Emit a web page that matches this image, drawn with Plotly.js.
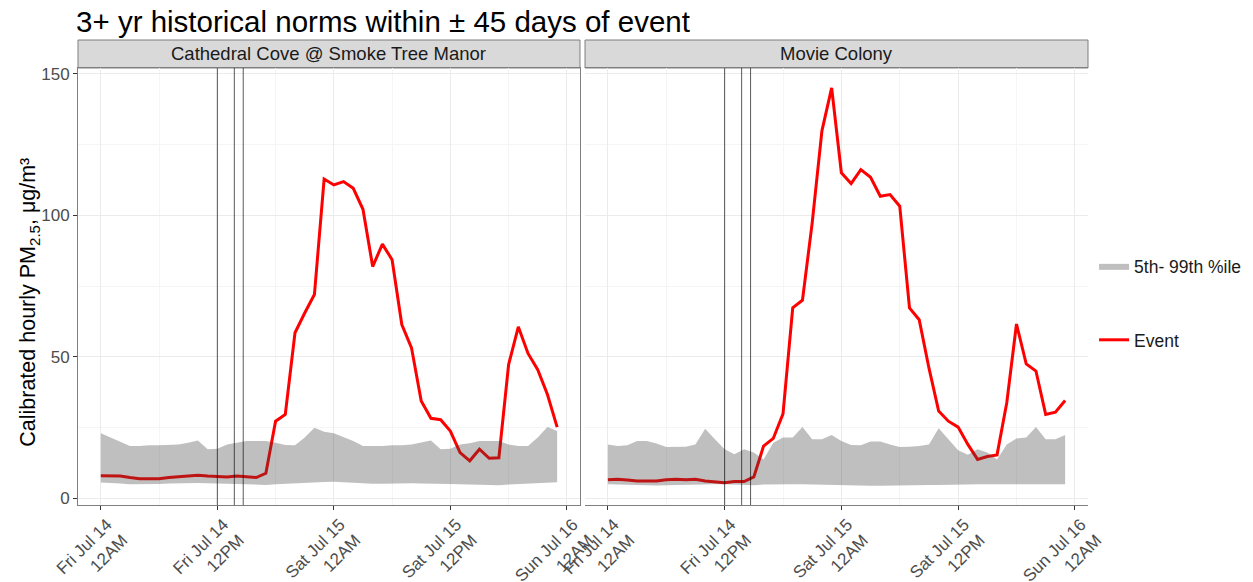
<!DOCTYPE html>
<html>
<head>
<meta charset="utf-8">
<script src="https://cdn.plot.ly/plotly-3.0.1.min.js"></script>
<style>
  body { margin: 0; background: white; }
  #grafic { width: 1253px; height: 582px; }
</style>
</head>
<body>
<div id="grafic"></div>
<script>
// DADES LLEGIDES DEL GRAFIC (hores del 14 jul 00:00 fins 15 jul 23:00)
var inici = '2023-07-14T00:00:00';
var nHores = 48;

var panells = ['Cathedral Cove @ Smoke Tree Manor', 'Movie Colony'];

// Cathedral Cove
var cc_event = [8.0,8.0,7.9,7.4,7.0,7.0,7.0,7.4,7.7,8.0, 8.2,7.9,7.7,7.6,7.9,7.7,7.4,8.9,27.3,29.7,
  58.5,65.5,72.0,112.8,110.7,111.9,109.5,102.1,81.9,89.8, 84.3,61.4,53.2,34.4,28.3,27.8,23.8,16.2,13.3,17.4,
  14.2,14.4,47.3,60.6,51.2,45.5,36.7,25.2];
var cc_p99 = [23.0,21.5,20.1,18.5,18.5,18.8,18.8,18.9,19.1,19.7,20.5,17.4,17.6,19.1,19.7,20.3,20.3,20.3,19.7,18.9,18.8,21.5,25.0,23.6,
  23.0,21.7,20.3,18.5,18.5,18.5,18.8,18.8,19.1,19.7,20.5,17.4,17.6,19.1,19.5,20.3,20.3,20.3,19.1,18.5,18.5,21.5,25.2,23.8];
var cc_p5 = [5.6,5.5,5.3,5.0,5.0,5.0,5.1,5.3,5.4,5.4,5.5,5.4,5.3,5.2,5.0,4.9,4.7,4.8,5.0,5.2,5.4,5.6,5.8,5.8,
  5.9,5.7,5.5,5.3,5.2,5.2,5.3,5.4,5.4,5.3,5.3,5.2,5.1,5.0,4.9,4.8,4.6,4.7,4.9,5.1,5.3,5.5,5.6,5.7];

// Movie Colony
var mc_event = [6.6,6.8,6.5,6.2,6.2,6.2,6.6,6.8,6.6,6.8, 6.2,5.9,5.6,6.0,6.0,7.6,18.5,21.2,29.9,67.3,
  70.0,97.3,129.8,145.0,115.0,111.2,116.1,113.4,106.7,107.3, 103.2,67.3,63.1,46.1,30.9,27.3,25.2,19.1,13.8,14.8,
  15.4,33.8,61.6,47.5,45.0,29.7,30.5,34.6];
var mc_p99 = [19.1,18.5,18.8,20.3,20.3,19.4,18.2,18.2,18.3,19.1,24.6,20.9,17.4,15.6,17.4,16.2,13.8,19.7,21.5,21.5,25.2,20.9,20.9,22.4,
  20.3,18.9,18.8,20.1,20.1,19.1,18.2,18.3,18.5,19.1,24.8,20.9,17.0,15.4,17.4,16.2,13.8,19.1,21.2,21.5,25.2,20.9,20.9,22.4];
var mc_p5 = [5.0,4.9,4.7,4.7,4.6,4.6,4.7,4.8,4.8,4.9,4.9,5.0,5.0,4.9,4.8,4.7,4.9,5.0,5.0,5.0,5.0,4.9,4.8,4.7,
  4.6,4.6,4.5,4.5,4.5,4.6,4.7,4.8,4.8,4.8,4.8,4.9,4.9,5.0,5.0,5.0,5.0,5.0,5.0,5.0,5.0,5.0,5.0,5.0];

// linies verticals de l'esdeveniment
var liniesEvent = ['2023-07-14 12:00', '2023-07-14 13:45', '2023-07-14 14:40'];

// etiquetes eix x
var ticsX = ['2023-07-14 00:00', '2023-07-14 12:00', '2023-07-15 00:00', '2023-07-15 12:00', '2023-07-16 00:00'];
var textTicsX = ['Fri Jul 14<br>12AM', 'Fri Jul 14<br>12PM', 'Sat Jul 15<br>12AM', 'Sat Jul 15<br>12PM', 'Sun Jul 16<br>12AM'];
var ticsY = [0, 50, 100, 150];

// hores com a dates
var hores = [];
var t0 = new Date(inici + 'Z').getTime();
for (var h = 0; h < nHores; ++h) {
    hores.push(new Date(t0 + h * 3600000).toISOString().slice(0, 16).replace('T', ' '));
}

var FONT = 'Liberation Sans, Arial, sans-serif';
var colorBanda = 'rgba(60,60,60,0.33)';

//traces d'un panell: primer la linia vermella, despres la banda a sobre
function tracesPanell(event, p5, p99, xa, ya, primer) {
    return [
        {x: hores, y: event, xaxis: xa, yaxis: ya, mode: 'lines', type: 'scatter',
         line: {color: '#FF0000', width: 3}, name: 'Event', legend: 'legend2', showlegend: primer, hoverinfo: 'skip'},
        {x: hores, y: p5, xaxis: xa, yaxis: ya, mode: 'lines', type: 'scatter',
         line: {width: 0}, showlegend: false, hoverinfo: 'skip'},
        {x: hores, y: p99, xaxis: xa, yaxis: ya, mode: 'lines', type: 'scatter', fill: 'tonexty',
         fillcolor: colorBanda, line: {width: 0}, name: '5th- 99th %ile', showlegend: primer, hoverinfo: 'skip'}
    ];
}

var dades = tracesPanell(cc_event, cc_p5, cc_p99, 'x', 'y', true)
    .concat(tracesPanell(mc_event, mc_p5, mc_p99, 'x2', 'y2', false));

function eixX(domini) {
    return {
        type: 'date', domain: domini,
        range: ['2023-07-13 21:39', '2023-07-16 01:21'],
        tickmode: 'array', tickvals: ticsX, ticktext: textTicsX, tickangle: -45,
        tickfont: {family: FONT, size: 17, color: '#4D4D4D'},
        ticks: 'outside', ticklen: 4, tickcolor: '#333333',
        ticklabelshift: 6, ticklabelstandoff: -2,
        showgrid: true, gridcolor: '#EBEBEB', gridwidth: 1,
        minor: {tick0: '2023-07-14', dtick: 21600000, showgrid: true, gridcolor: '#F5F5F5', gridwidth: 1},
        showline: true, mirror: true, linecolor: '#7F7F7F', linewidth: 1,
        zeroline: false, fixedrange: true, automargin: false
    };
}

function eixY(etiquetes) {
    return {
        range: [-2.3, 152], domain: [0, 0.9398],
        tickmode: 'array', tickvals: ticsY, showticklabels: etiquetes,
        tickfont: {family: FONT, size: 17, color: '#4D4D4D'},
        ticks: etiquetes ? 'outside' : '', ticklen: 4, tickcolor: '#333333',
        showgrid: true, gridcolor: '#EBEBEB', gridwidth: 1,
        minor: {tick0: 0, dtick: 25, showgrid: true, gridcolor: '#F5F5F5', gridwidth: 1},
        showline: true, mirror: true, linecolor: '#7F7F7F', linewidth: 1,
        zeroline: false, fixedrange: true, automargin: false
    };
}

// linies verticals i capsals (strips)
var formes = [];
var anotacions = [];
var eixos = [['x', 'y'], ['x2', 'y2']];
for (var p = 0; p < eixos.length; ++p) {
    for (var k = 0; k < liniesEvent.length; ++k) {
        formes.push({type: 'line', xref: eixos[p][0], yref: eixos[p][1] + ' domain',
            x0: liniesEvent[k], x1: liniesEvent[k], y0: 0, y1: 1,
            line: {color: 'rgba(0,0,0,0.65)', width: 1}});
    }
    formes.push({type: 'rect', xref: eixos[p][0] + ' domain', yref: 'paper',
        x0: 0, x1: 1, y0: 0.9398, y1: 1, fillcolor: '#D9D9D9',
        line: {color: '#7F7F7F', width: 1}, layer: 'below'});
    anotacions.push({xref: eixos[p][0] + ' domain', yref: 'paper', x: 0.5, y: 0.97,
        text: panells[p], showarrow: false, xanchor: 'center', yanchor: 'middle',
        font: {family: FONT, size: 18.5, color: '#1A1A1A'}});
}

// titol de l'eix y
anotacions.push({xref: 'paper', yref: 'paper', x: -0.0475, y: 0.435, textangle: -90,
    text: 'Calibrated hourly PM<sub>2.5</sub>, μg/m³', showarrow: false,
    xanchor: 'center', yanchor: 'middle', font: {family: FONT, size: 21.5, color: '#000000'}});

var layout = {
    width: 1253, height: 582,
    margin: {l: 78, r: 165, t: 40, b: 77, autoexpand: false},
    paper_bgcolor: 'white', plot_bgcolor: 'white',
    title: {text: '3+ yr historical norms within ± 45 days of event', x: 0.0607, xanchor: 'left',
        xref: 'container', y: 0.962, yanchor: 'middle', yref: 'container',
        font: {family: FONT, size: 29.5, color: '#000000'}},
    xaxis: eixX([0, 0.497]),
    xaxis2: eixX([0.502, 1]),
    yaxis: eixY(true),
    yaxis2: Object.assign(eixY(false), {matches: 'y'}),
    shapes: formes,
    annotations: anotacions,
    legend: {x: 1.006, y: 0.514, xanchor: 'left', yanchor: 'middle', bgcolor: 'rgba(0,0,0,0)',
        font: {family: FONT, size: 17.5, color: '#1A1A1A'}},
    legend2: {x: 1.006, y: 0.355, xanchor: 'left', yanchor: 'middle', bgcolor: 'rgba(0,0,0,0)',
        font: {family: FONT, size: 17.5, color: '#1A1A1A'}},
    showlegend: true
};

Plotly.newPlot('grafic', dades, layout, {displayModeBar: false, staticPlot: true});
</script>
</body>
</html>
